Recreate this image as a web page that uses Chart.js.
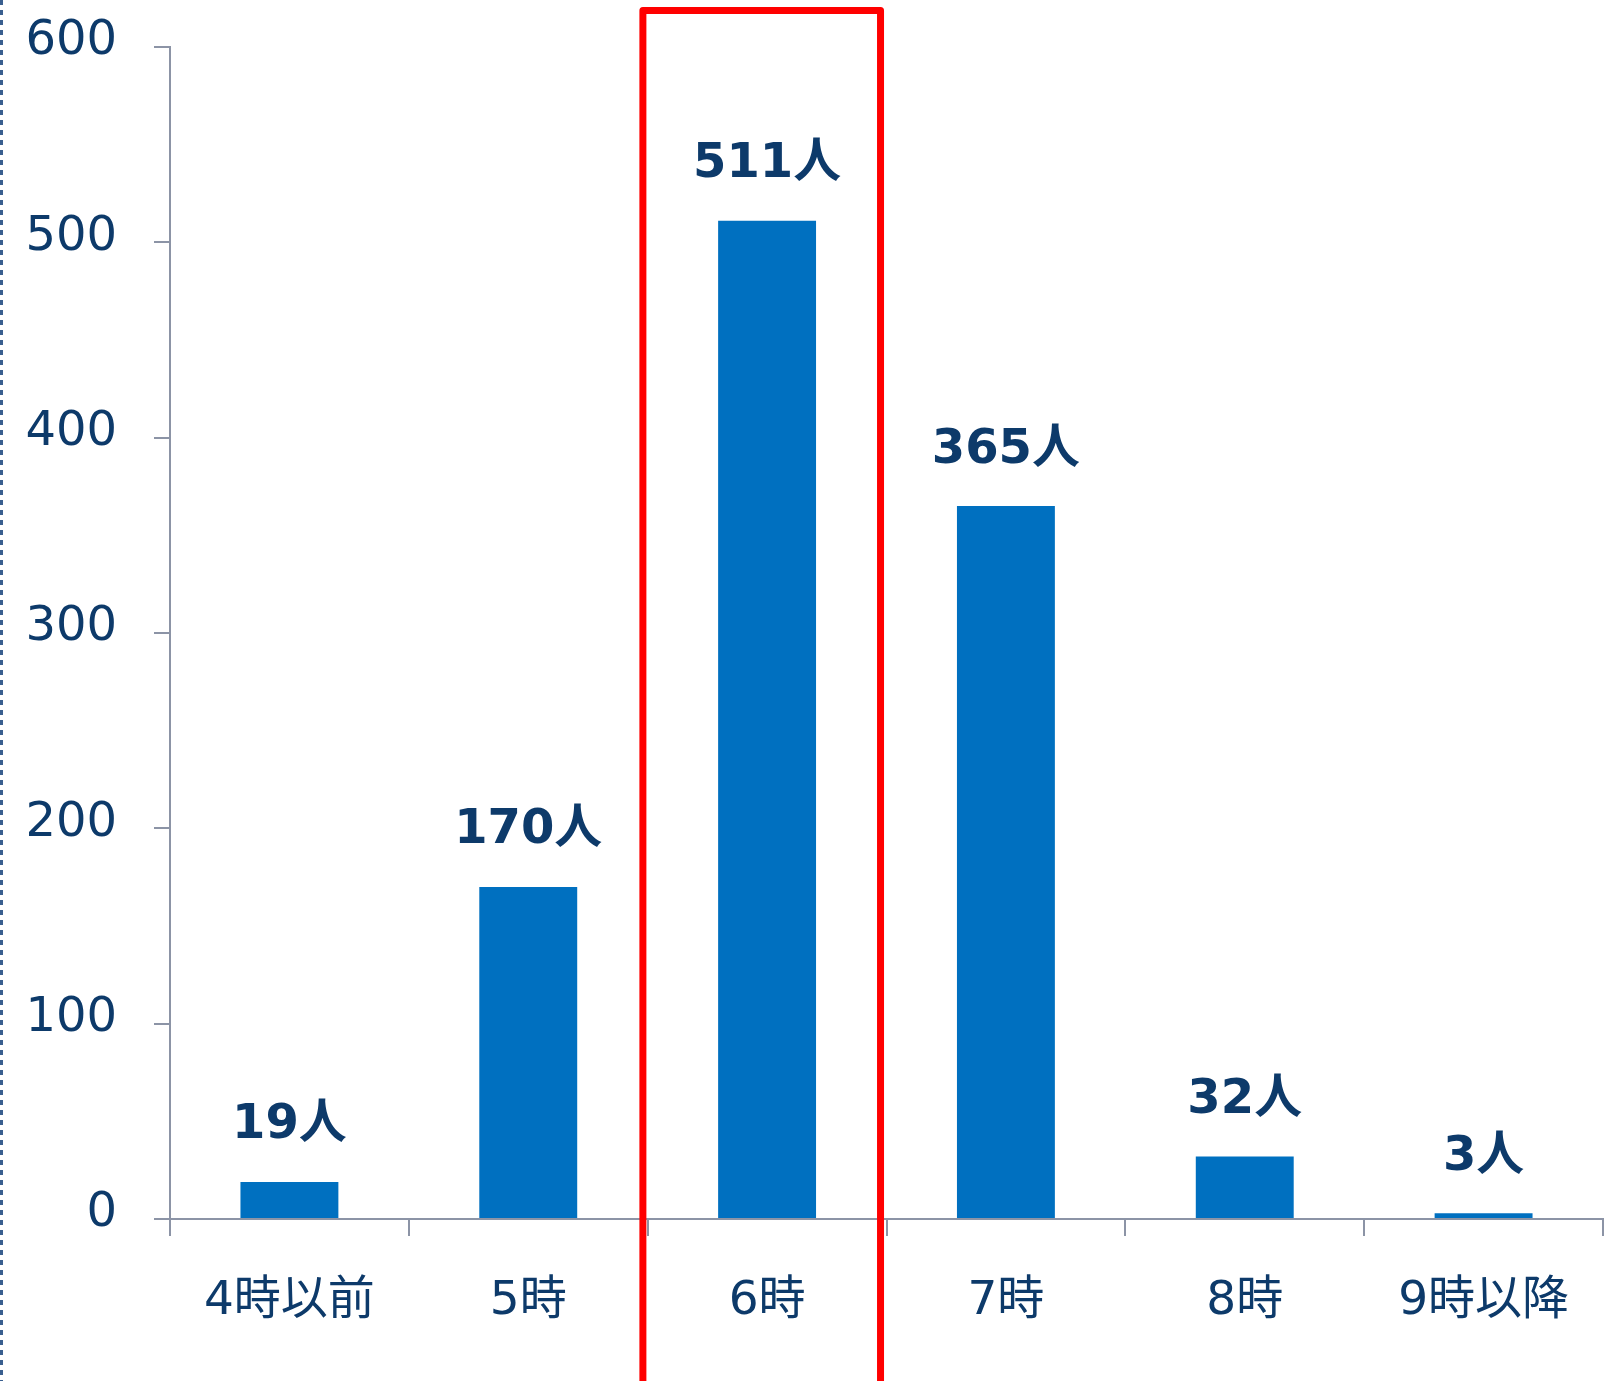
<!DOCTYPE html>
<html>
<head>
<meta charset="utf-8">
<script src="https://cdn.jsdelivr.net/npm/chart.js@4"></script>
<style>
  body { margin: 0; background: #fff; }
  canvas { display: block; }
</style>
</head>
<body>
<canvas id="chart" width="1622" height="1381"></canvas>
<script>
const categories = ["4時以前", "5時", "6時", "7時", "8時", "9時以降"];
const people = [19, 170, 511, 365, 32, 3];
const yTicks = [0, 100, 200, 300, 400, 500, 600];
const highlightIndex = 2;

const navy = "#0d3a6a";
const axisGrey = "#8c94a6";
const fontFamily = "'DejaVu Sans', 'Noto Sans CJK JP', sans-serif";

// value labels above bars
const valueLabels = {
  id: "valueLabels",
  afterDatasetsDraw(chart) {
    const ctx = chart.ctx;
    const meta = chart.getDatasetMeta(0);
    ctx.save();
    ctx.fillStyle = navy;
    ctx.font = "bold 48px " + fontFamily;
    ctx.textAlign = "center";
    ctx.textBaseline = "middle";
    meta.data.forEach((bar, i) => {
      ctx.fillText(people[i] + "人", bar.x, bar.y - 56);
    });
    ctx.restore();
  }
};

// red frame round the highlighted category + dotted line at left edge
const decorations = {
  id: "decorations",
  afterDraw(chart) {
    const ctx = chart.ctx;
    const x = chart.scales.x;
    const catW = x.width / categories.length;
    const c = x.getPixelForValue(highlightIndex);
    ctx.save();
    ctx.strokeStyle = "#ff0000";
    ctx.lineWidth = 7;
    ctx.lineJoin = "round";
    ctx.beginPath();
    ctx.moveTo(c - 0.52 * catW, chart.height + 10);
    ctx.lineTo(c - 0.52 * catW, 10.5);
    ctx.lineTo(c + 0.475 * catW, 10.5);
    ctx.lineTo(c + 0.475 * catW, chart.height + 10);
    ctx.stroke();

    ctx.strokeStyle = "#3a5f8f";
    ctx.lineWidth = 3;
    ctx.setLineDash([5, 5]);
    ctx.beginPath();
    ctx.moveTo(1.5, 0);
    ctx.lineTo(1.5, chart.height);
    ctx.stroke();
    ctx.restore();
  }
};

new Chart(document.getElementById("chart"), {
  type: "bar",
  data: {
    labels: categories,
    datasets: [{
      data: people,
      backgroundColor: "#0070c0",
      barPercentage: 0.41,
      categoryPercentage: 1
    }]
  },
  options: {
    responsive: false,
    animation: false,
    layout: { padding: { top: 47, right: 19, bottom: 0, left: 0 } },
    plugins: { legend: { display: false }, tooltip: { enabled: false } },
    scales: {
      x: {
        afterFit(scale) { scale.height = 162; },
        grid: {
          offset: true,
          drawOnChartArea: false,
          drawTicks: true,
          tickLength: 17,
          color: axisGrey,
          lineWidth: 2
        },
        border: { color: axisGrey, width: 2 },
        ticks: {
          color: navy,
          padding: 38,
          font: { family: fontFamily, size: 47 }
        }
      },
      y: {
        min: 0,
        max: 600,
        afterFit(scale) {
          scale.width = 170;
          scale.paddingTop = 0;
          scale.paddingBottom = 0;
        },
        afterBuildTicks(scale) { scale.ticks = yTicks.map(v => ({ value: v })); },
        grid: {
          drawOnChartArea: false,
          drawTicks: true,
          tickLength: 16,
          color: axisGrey,
          lineWidth: 2
        },
        border: { color: axisGrey, width: 2 },
        ticks: {
          color: navy,
          padding: 37,
          labelOffset: -5,
          font: { family: fontFamily, size: 48 }
        }
      }
    }
  },
  plugins: [valueLabels, decorations]
});
</script>
</body>
</html>
